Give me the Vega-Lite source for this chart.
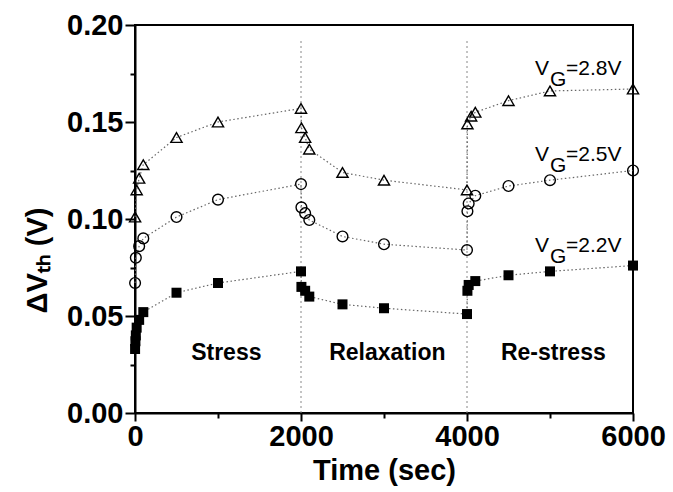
{
  "$schema": "https://vega.github.io/schema/vega-lite/v6.json",
  "width": 498,
  "height": 388,
  "autosize": {"type": "none"},
  "padding": {"left": 135, "top": 25, "right": 40, "bottom": 79},
  "background": "white",
  "config": {
    "view": {"stroke": "black", "strokeWidth": 2},
    "font": "Liberation Sans",
    "axis": {
      "grid": false,
      "domainColor": "black",
      "domainWidth": 2,
      "tickColor": "black",
      "tickWidth": 2,
      "labelFont": "Liberation Sans",
      "labelFontWeight": "bold",
      "labelFontSize": 29,
      "labelColor": "black",
      "titleFont": "Liberation Sans",
      "titleFontWeight": "bold",
      "titleFontSize": 29,
      "titleColor": "black"
    }
  },
  "datasets": {
    "series": [
      {"s": "2.2V", "t": 1, "v": 0.033},
      {"s": "2.2V", "t": 5, "v": 0.037},
      {"s": "2.2V", "t": 10, "v": 0.040},
      {"s": "2.2V", "t": 20, "v": 0.044},
      {"s": "2.2V", "t": 50, "v": 0.048},
      {"s": "2.2V", "t": 100, "v": 0.052},
      {"s": "2.2V", "t": 500, "v": 0.062},
      {"s": "2.2V", "t": 1000, "v": 0.067},
      {"s": "2.2V", "t": 2000, "v": 0.073},
      {"s": "2.2V", "t": 2005, "v": 0.065},
      {"s": "2.2V", "t": 2050, "v": 0.063},
      {"s": "2.2V", "t": 2100, "v": 0.060},
      {"s": "2.2V", "t": 2500, "v": 0.056},
      {"s": "2.2V", "t": 3000, "v": 0.054},
      {"s": "2.2V", "t": 4000, "v": 0.051},
      {"s": "2.2V", "t": 4005, "v": 0.063},
      {"s": "2.2V", "t": 4020, "v": 0.066},
      {"s": "2.2V", "t": 4100, "v": 0.068},
      {"s": "2.2V", "t": 4500, "v": 0.071},
      {"s": "2.2V", "t": 5000, "v": 0.073},
      {"s": "2.2V", "t": 6000, "v": 0.076},
      {"s": "2.5V", "t": 1, "v": 0.067},
      {"s": "2.5V", "t": 10, "v": 0.080},
      {"s": "2.5V", "t": 50, "v": 0.086},
      {"s": "2.5V", "t": 100, "v": 0.090},
      {"s": "2.5V", "t": 500, "v": 0.101},
      {"s": "2.5V", "t": 1000, "v": 0.110},
      {"s": "2.5V", "t": 2000, "v": 0.118},
      {"s": "2.5V", "t": 2005, "v": 0.106},
      {"s": "2.5V", "t": 2050, "v": 0.103},
      {"s": "2.5V", "t": 2100, "v": 0.0995},
      {"s": "2.5V", "t": 2500, "v": 0.091},
      {"s": "2.5V", "t": 3000, "v": 0.087},
      {"s": "2.5V", "t": 4000, "v": 0.084},
      {"s": "2.5V", "t": 4005, "v": 0.104},
      {"s": "2.5V", "t": 4020, "v": 0.108},
      {"s": "2.5V", "t": 4100, "v": 0.112},
      {"s": "2.5V", "t": 4500, "v": 0.117},
      {"s": "2.5V", "t": 5000, "v": 0.120},
      {"s": "2.5V", "t": 6000, "v": 0.125},
      {"s": "2.8V", "t": 1, "v": 0.101},
      {"s": "2.8V", "t": 20, "v": 0.115},
      {"s": "2.8V", "t": 50, "v": 0.121},
      {"s": "2.8V", "t": 100, "v": 0.128},
      {"s": "2.8V", "t": 500, "v": 0.142},
      {"s": "2.8V", "t": 1000, "v": 0.150},
      {"s": "2.8V", "t": 2000, "v": 0.157},
      {"s": "2.8V", "t": 2005, "v": 0.147},
      {"s": "2.8V", "t": 2050, "v": 0.142},
      {"s": "2.8V", "t": 2100, "v": 0.136},
      {"s": "2.8V", "t": 2500, "v": 0.124},
      {"s": "2.8V", "t": 3000, "v": 0.120},
      {"s": "2.8V", "t": 4000, "v": 0.115},
      {"s": "2.8V", "t": 4005, "v": 0.149},
      {"s": "2.8V", "t": 4050, "v": 0.153},
      {"s": "2.8V", "t": 4100, "v": 0.155},
      {"s": "2.8V", "t": 4500, "v": 0.161},
      {"s": "2.8V", "t": 5000, "v": 0.166},
      {"s": "2.8V", "t": 6000, "v": 0.167}
    ],
    "dividers": [
      {"t": 2000, "v": 0, "v2": 0.192},
      {"t": 4000, "v": 0, "v2": 0.192}
    ],
    "phases": [
      {"t": 1100, "v": 0.031, "label": "Stress"},
      {"t": 3040, "v": 0.031, "label": "Relaxation"},
      {"t": 5040, "v": 0.031, "label": "Re-stress"}
    ],
    "vg": [
      {"t": 4820, "v": 0.174, "lab": "=2.8V"},
      {"t": 4820, "v": 0.13, "lab": "=2.5V"},
      {"t": 4820, "v": 0.083, "lab": "=2.2V"}
    ]
  },
  "layer": [
    {
      "data": {"name": "dividers"},
      "mark": {"type": "rule", "color": "#888888", "strokeWidth": 1, "strokeDash": [2, 3]},
      "encoding": {
        "x": {"field": "t", "type": "quantitative", "scale": {"domain": [0, 6000], "nice": false},
          "title": "Time (sec)",
          "axis": {"orient": "bottom", "values": [0, 1000, 2000, 3000, 4000, 5000, 6000], "format": "d",
            "labelExpr": "datum.value % 2000 === 0 ? datum.label : ''",
            "tickSize": {"condition": {"test": "datum.value % 2000 === 0", "value": 8}, "value": 5},
            "labelPadding": 1, "labelFlush": false, "titlePadding": 5}},
        "y": {"field": "v", "type": "quantitative", "scale": {"domain": [0, 0.2], "nice": false},
          "title": "ΔVₜₕ (V)",
          "axis": {"orient": "left", "values": [0, 0.025, 0.05, 0.075, 0.1, 0.125, 0.15, 0.175, 0.2], "format": ".2f",
            "labelExpr": "round(datum.value * 1000) % 50 === 0 ? datum.label : ''",
            "tickSize": {"condition": {"test": "round(datum.value * 1000) % 50 === 0", "value": 10}, "value": 5},
            "labelPadding": 2, "titlePadding": 14, "titleY": 235}},
        "y2": {"field": "v2"}
      }
    },
    {
      "data": {"name": "series"},
      "mark": {"type": "line", "color": "#666666", "strokeWidth": 1.2, "strokeDash": [1.5, 2.5]},
      "encoding": {
        "x": {"field": "t", "type": "quantitative"},
        "y": {"field": "v", "type": "quantitative"},
        "detail": {"field": "s"}
      }
    },
    {
      "data": {"name": "series"},
      "transform": [{"filter": "datum.s === '2.2V'"}],
      "mark": {"type": "point", "shape": "square", "filled": true, "color": "black", "size": 100, "opacity": 1},
      "encoding": {
        "x": {"field": "t", "type": "quantitative"},
        "y": {"field": "v", "type": "quantitative"}
      }
    },
    {
      "data": {"name": "series"},
      "transform": [{"filter": "datum.s === '2.5V'"}],
      "mark": {"type": "point", "shape": "circle", "filled": false, "color": "black", "strokeWidth": 1.4, "size": 115, "opacity": 1},
      "encoding": {
        "x": {"field": "t", "type": "quantitative"},
        "y": {"field": "v", "type": "quantitative"}
      }
    },
    {
      "data": {"name": "series"},
      "transform": [{"filter": "datum.s === '2.8V'"}],
      "mark": {"type": "point", "shape": "triangle-up", "filled": false, "color": "black", "strokeWidth": 1.4, "size": 125, "opacity": 1},
      "encoding": {
        "x": {"field": "t", "type": "quantitative"},
        "y": {"field": "v", "type": "quantitative"}
      }
    },
    {
      "data": {"name": "phases"},
      "mark": {"type": "text", "font": "Liberation Sans", "fontWeight": "bold", "fontSize": 23, "color": "black", "align": "center", "baseline": "middle"},
      "encoding": {
        "x": {"field": "t", "type": "quantitative"},
        "y": {"field": "v", "type": "quantitative"},
        "text": {"field": "label"}
      }
    },
    {
      "data": {"name": "vg"},
      "mark": {"type": "text", "text": "V", "font": "Liberation Sans", "fontSize": 21, "color": "black", "align": "left", "baseline": "alphabetic"},
      "encoding": {
        "x": {"field": "t", "type": "quantitative"},
        "y": {"field": "v", "type": "quantitative"}
      }
    },
    {
      "data": {"name": "vg"},
      "mark": {"type": "text", "text": "G", "font": "Liberation Sans", "fontSize": 21, "color": "black", "align": "left", "baseline": "alphabetic", "dx": 15, "dy": 11},
      "encoding": {
        "x": {"field": "t", "type": "quantitative"},
        "y": {"field": "v", "type": "quantitative"}
      }
    },
    {
      "data": {"name": "vg"},
      "mark": {"type": "text", "font": "Liberation Sans", "fontSize": 21, "color": "black", "align": "left", "baseline": "alphabetic", "dx": 31},
      "encoding": {
        "x": {"field": "t", "type": "quantitative"},
        "y": {"field": "v", "type": "quantitative"},
        "text": {"field": "lab"}
      }
    }
  ]
}
